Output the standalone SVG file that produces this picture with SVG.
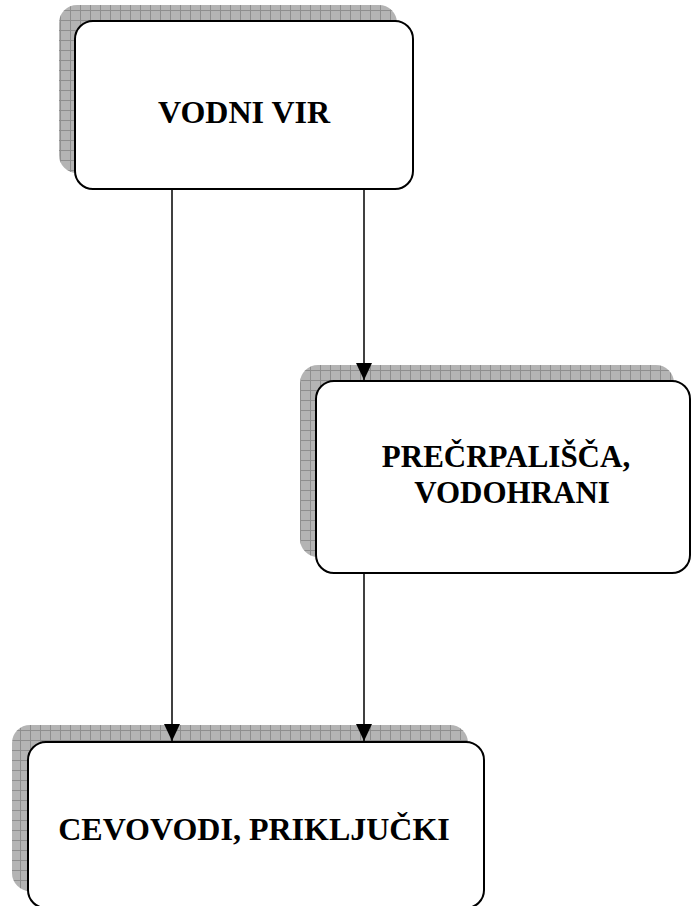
<svg xmlns="http://www.w3.org/2000/svg" width="691" height="906" viewBox="0 0 691 906">
<style>
.box{fill:#fff;stroke:#000;stroke-width:2}
.shadow{fill:url(#grid)}
.lbl{font-family:"Liberation Serif","Times New Roman",serif;font-weight:bold;font-size:32px;fill:#000;text-anchor:middle}
.conn{stroke:#000;stroke-width:1.5;fill:none;marker-end:url(#arr)}
</style>
<defs>
<pattern id="grid" width="10" height="10" patternUnits="userSpaceOnUse">
<rect width="10" height="10" fill="#b4b4b4"/>
<path d="M0 0.5H10M0.5 0V10" stroke="#8e8e8e" stroke-width="1"/>
</pattern>
<marker id="arr" markerWidth="17" markerHeight="16" refX="17" refY="8" orient="auto" markerUnits="userSpaceOnUse">
<path d="M0 0L17 8L0 16Z" fill="#000"/>
</marker>
</defs>
<rect width="691" height="906" fill="#fff"/>
<g id="vodni-vir">
<rect class="shadow" x="59" y="5" width="338" height="168" rx="18"/>
<rect class="box" x="75" y="21" width="338" height="168" rx="18"/>
<text class="lbl" x="244" y="123">VODNI VIR</text>
</g>
<g id="precrpalisca">
<rect class="shadow" x="300" y="365" width="374" height="192" rx="18"/>
<rect class="box" x="316" y="381" width="374" height="192" rx="18"/>
<text class="lbl" style="font-size:31px" x="506" y="467">PREČRPALIŠČA,</text>
<text class="lbl" style="font-size:31px" x="512" y="503">VODOHRANI</text>
</g>
<g id="cevovodi">
<rect class="shadow" x="12" y="725" width="456" height="166" rx="18"/>
<rect class="box" x="28" y="742" width="456" height="166" rx="18"/>
<text class="lbl" x="254" y="840">CEVOVODI, PRIKLJUČKI</text>
</g>
<g id="connectors">
<line class="conn" x1="172" y1="190" x2="172" y2="741"/>
<line class="conn" x1="364" y1="190" x2="364" y2="380"/>
<line class="conn" x1="364" y1="574" x2="364" y2="741"/>
</g>
</svg>
